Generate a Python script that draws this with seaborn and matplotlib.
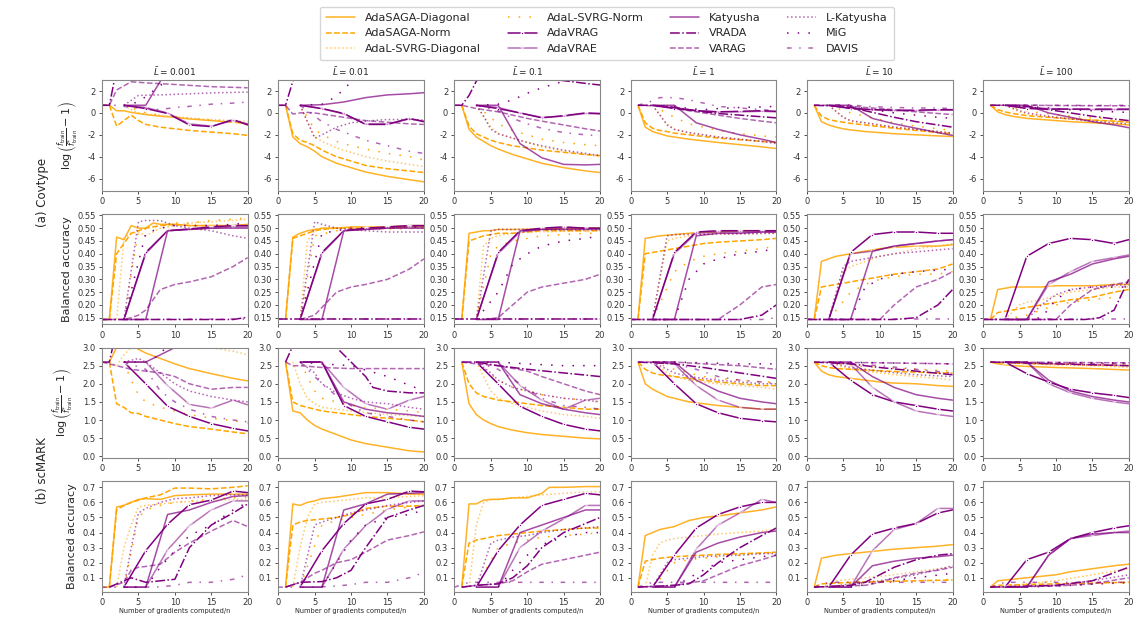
import matplotlib
matplotlib.use("Agg")
import matplotlib.pyplot as plt
import seaborn as sns

# method names, in legend order (column-wise, 4 columns)
names = ["AdaSAGA-Diagonal", "AdaSAGA-Norm", "AdaL-SVRG-Diagonal",
         "AdaL-SVRG-Norm", "AdaVRAG", "AdaVRAE",
         "Katyusha", "VRADA", "VARAG",
         "L-Katyusha", "MiG", "DAVIS"]

l_values = ["0.001", "0.01", "0.1", "1", "10", "100"]

# each panel: method -> {gradients computed / n : value}
covtype_loss = [
    {  # L = 0.001
        "AdaSAGA-Diagonal": {1: 0.7, 2: 0.2, 3: 0.2, 4: 0.05, 5: -0.05, 6: -0.15, 8: -0.3, 10: -0.4, 12: -0.55, 15: -0.7, 18: -0.85, 20: -1.0},
        "AdaSAGA-Norm": {1: 0.7, 2: -1.2, 3: -0.7, 4: -0.2, 5: -0.7, 6: -1.05, 8: -1.3, 10: -1.45, 12: -1.6, 15: -1.75, 18: -1.9, 20: -2.05},
        "AdaL-SVRG-Diagonal": {3: 0.7, 4: 0.3, 5: 0.0, 6: -0.1, 8: -0.2, 10: -0.35, 12: -0.45, 15: -0.6, 18: -0.7, 20: -0.8},
        "AdaL-SVRG-Norm": {3: 0.7, 6: 0.0, 8: -0.2, 10: -0.35, 12: -0.5, 15: -0.65, 18: -0.75, 20: -0.85},
        "AdaVRAG": {3: 0.7, 6: 0.4, 9: -0.05, 12: -1.1, 15: -1.25, 18: -0.6, 20: -1.1},
        "AdaVRAE": {3: 0.7, 6: 0.5, 9: 0.0, 12: -1.0, 15: -1.2, 18: -0.7, 20: -1.0},
        "Katyusha": {3: 0.7, 6: 0.7, 9: 4.0, 12: 6.0, 15: 6.0, 18: 6.0, 20: 6.0},
        "VRADA": {0: 0.7, 1: 0.7, 2: 4.0, 4: 6.0, 20: 6.0},
        "VARAG": {0: 0.7, 1: 0.7, 2: 2.1, 4: 2.85, 6: 2.75, 10: 2.6, 15: 2.4, 20: 2.3},
        "L-Katyusha": {3: 0.7, 5: 1.6, 8: 1.65, 12: 1.75, 16: 1.85, 20: 1.9},
        "MiG": {3: 0.7, 5: 1.0, 6: 1.5, 8: 2.5, 10: 3.5, 20: 6.0},
        "DAVIS": {0: 0.7, 2: 0.7, 4: 0.5, 6: 0.4, 8: 0.3, 10: 0.5, 12: 0.6, 15: 0.8, 18: 0.9, 20: 1.0},
    },
    {  # L = 0.01
        "AdaSAGA-Diagonal": {1: 0.7, 2: -2.2, 3: -2.8, 4: -3.1, 5: -3.5, 6: -4.0, 8: -4.6, 10: -5.0, 12: -5.4, 15: -5.8, 18: -6.1, 20: -6.3},
        "AdaSAGA-Norm": {1: 0.7, 2: -1.9, 3: -2.5, 4: -2.7, 5: -3.0, 6: -3.4, 8: -4.0, 10: -4.4, 12: -4.8, 15: -5.1, 18: -5.3, 20: -5.45},
        "AdaL-SVRG-Diagonal": {3: 0.7, 4: -0.8, 5: -2.2, 6: -2.6, 8: -3.2, 10: -3.6, 12: -4.0, 15: -4.4, 18: -4.7, 20: -4.9},
        "AdaL-SVRG-Norm": {3: 0.7, 5: -1.5, 6: -2.0, 8: -2.6, 10: -3.0, 12: -3.3, 15: -3.7, 18: -4.0, 20: -4.3},
        "AdaVRAG": {3: 0.7, 6: 0.4, 9: -0.05, 12: -1.05, 15: -1.05, 18: -0.5, 20: -0.8},
        "AdaVRAE": {3: 0.7, 6: 0.4, 9: -0.1, 12: -1.0, 15: -1.0, 18: -0.55, 20: -0.75},
        "Katyusha": {3: 0.7, 6: 0.75, 9: 1.0, 12: 1.4, 15: 1.65, 18: 1.75, 20: 1.85},
        "VRADA": {0: 0.7, 1: 0.7, 2: 2.9, 3: 5.0, 20: 6.0},
        "VARAG": {0: 0.7, 1: 0.7, 2: -0.1, 3: 0.0, 4: 0.05, 5: 0.0, 6: -0.1, 8: -0.3, 10: -0.5, 12: -0.7, 15: -0.85, 18: -1.0, 20: -1.05},
        "L-Katyusha": {3: 0.7, 5: -2.3, 6: -2.0, 8: -1.3, 10: -0.9, 12: -0.75, 15: -0.6, 18: -0.6, 20: -0.65},
        "MiG": {3: 0.7, 6: 0.8, 8: 1.5, 9: 2.2, 10: 2.8, 12: 4.0, 20: 6.0},
        "DAVIS": {3: 0.7, 6: -0.8, 8: -1.5, 10: -2.0, 12: -2.5, 15: -3.0, 18: -3.5, 20: -3.7},
    },
    {  # L = 0.1
        "AdaSAGA-Diagonal": {1: 0.7, 2: -1.5, 3: -2.2, 4: -2.6, 5: -3.0, 6: -3.3, 8: -3.8, 10: -4.2, 12: -4.6, 15: -5.0, 18: -5.3, 20: -5.45},
        "AdaSAGA-Norm": {1: 0.7, 2: -1.2, 3: -1.9, 4: -2.2, 5: -2.5, 6: -2.7, 8: -3.0, 10: -3.2, 12: -3.4, 15: -3.6, 18: -3.8, 20: -3.9},
        "AdaL-SVRG-Diagonal": {3: 0.7, 5: -1.3, 6: -1.9, 8: -2.3, 10: -2.7, 12: -3.1, 15: -3.5, 18: -3.8, 20: -4.0},
        "AdaL-SVRG-Norm": {3: 0.7, 6: -1.0, 8: -1.6, 10: -2.0, 12: -2.4, 15: -2.7, 18: -2.9, 20: -3.0},
        "AdaVRAG": {3: 0.7, 6: 0.4, 9: 0.0, 12: -0.45, 15: -0.25, 18: 0.0, 20: -0.05},
        "AdaVRAE": {3: 0.7, 6: 0.5, 9: 0.0, 12: -0.4, 15: -0.3, 18: -0.05, 20: -0.1},
        "Katyusha": {3: 0.7, 6: 0.7, 9: -2.8, 12: -4.1, 15: -4.7, 18: -4.75, 20: -4.7},
        "VRADA": {0: 0.7, 1: 0.7, 2: 1.6, 3: 2.9, 5: 4.5, 8: 4.0, 12: 3.2, 15: 2.95, 18: 2.7, 20: 2.55},
        "VARAG": {0: 0.7, 1: 0.7, 2: 0.55, 3: 0.4, 4: 0.3, 5: 0.2, 6: 0.1, 8: -0.2, 10: -0.5, 12: -0.75, 15: -1.1, 18: -1.45, 20: -1.65},
        "L-Katyusha": {3: 0.7, 4: -0.3, 5: -1.5, 6: -1.9, 8: -2.3, 10: -2.7, 12: -3.0, 15: -3.4, 18: -3.7, 20: -3.9},
        "MiG": {3: 0.7, 6: 0.8, 8: 1.2, 10: 1.8, 12: 2.3, 15: 2.9, 18: 3.2, 20: 3.5},
        "DAVIS": {3: 0.7, 6: 0.2, 8: -0.5, 10: -1.0, 12: -1.4, 15: -1.8, 18: -2.0, 20: -2.1},
    },
    {  # L = 1
        "AdaSAGA-Diagonal": {1: 0.7, 2: -1.3, 3: -1.7, 4: -1.9, 5: -2.1, 6: -2.2, 8: -2.4, 10: -2.55, 12: -2.7, 15: -2.9, 18: -3.1, 20: -3.25},
        "AdaSAGA-Norm": {1: 0.7, 2: -0.9, 3: -1.4, 4: -1.6, 5: -1.7, 6: -1.85, 8: -2.0, 10: -2.15, 12: -2.3, 15: -2.45, 18: -2.6, 20: -2.7},
        "AdaL-SVRG-Diagonal": {3: 0.7, 5: -1.0, 6: -1.5, 8: -1.8, 10: -2.0, 12: -2.2, 15: -2.4, 18: -2.6, 20: -2.7},
        "AdaL-SVRG-Norm": {3: 0.7, 6: -0.4, 8: -1.0, 10: -1.3, 12: -1.6, 15: -1.9, 18: -2.1, 20: -2.2},
        "AdaVRAG": {3: 0.7, 6: 0.4, 9: 0.2, 12: 0.1, 15: 0.15, 18: 0.2, 20: 0.15},
        "AdaVRAE": {3: 0.7, 6: 0.5, 9: 0.2, 12: 0.1, 15: 0.1, 18: 0.15, 20: 0.1},
        "Katyusha": {3: 0.7, 6: 0.7, 9: -0.9, 12: -1.5, 15: -2.0, 18: -2.4, 20: -2.7},
        "VRADA": {1: 0.7, 3: 0.7, 5: 0.6, 8: 0.3, 10: 0.1, 12: -0.05, 15: -0.2, 18: -0.35, 20: -0.45},
        "VARAG": {1: 0.7, 3: 0.65, 6: 0.45, 8: 0.2, 10: 0.0, 12: -0.2, 15: -0.5, 18: -0.75, 20: -0.9},
        "L-Katyusha": {3: 0.7, 4: -0.2, 5: -1.1, 6: -1.5, 8: -1.8, 10: -2.0, 12: -2.2, 15: -2.4, 18: -2.6, 20: -2.8},
        "MiG": {3: 0.7, 6: 0.6, 8: 0.4, 10: 0.3, 12: 0.4, 15: 0.5, 18: 0.55, 20: 0.6},
        "DAVIS": {1: 0.7, 3: 1.1, 4: 1.4, 6: 1.4, 8: 1.2, 10: 0.9, 12: 0.6, 15: 0.45, 18: 0.3, 20: 0.2},
    },
    {  # L = 10
        "AdaSAGA-Diagonal": {1: 0.7, 2: -0.8, 3: -1.1, 4: -1.3, 5: -1.45, 6: -1.55, 8: -1.7, 10: -1.8, 12: -1.9, 15: -2.0, 18: -2.1, 20: -2.15},
        "AdaSAGA-Norm": {1: 0.7, 2: -0.3, 3: -0.6, 4: -0.75, 5: -0.85, 6: -0.95, 8: -1.1, 10: -1.25, 12: -1.4, 15: -1.6, 18: -1.8, 20: -1.9},
        "AdaL-SVRG-Diagonal": {3: 0.7, 5: -0.4, 6: -0.75, 8: -0.9, 10: -1.1, 12: -1.3, 15: -1.5, 18: -1.7, 20: -1.8},
        "AdaL-SVRG-Norm": {3: 0.7, 6: 0.0, 8: -0.3, 10: -0.6, 12: -0.9, 15: -1.2, 18: -1.45, 20: -1.6},
        "AdaVRAG": {3: 0.7, 6: 0.4, 9: 0.3, 12: 0.25, 15: 0.25, 18: 0.3, 20: 0.3},
        "AdaVRAE": {3: 0.7, 6: 0.45, 9: 0.3, 12: 0.2, 15: 0.2, 18: 0.25, 20: 0.25},
        "Katyusha": {3: 0.7, 6: 0.7, 9: -0.5, 12: -1.0, 15: -1.4, 18: -1.8, 20: -2.05},
        "VRADA": {1: 0.7, 3: 0.65, 6: 0.5, 8: 0.2, 10: -0.1, 12: -0.4, 15: -0.8, 18: -1.1, 20: -1.3},
        "VARAG": {1: 0.7, 3: 0.7, 6: 0.6, 8: 0.5, 10: 0.4, 12: 0.3, 15: 0.1, 18: -0.05, 20: -0.15},
        "L-Katyusha": {3: 0.7, 5: -0.4, 6: -0.7, 8: -0.9, 10: -1.1, 12: -1.3, 15: -1.5, 18: -1.7, 20: -1.85},
        "MiG": {3: 0.7, 6: 0.6, 8: 0.4, 10: 0.2, 12: 0.0, 15: -0.2, 18: -0.4, 20: -0.5},
        "DAVIS": {1: 0.7, 4: 0.75, 6: 0.75, 8: 0.6, 10: 0.55, 12: 0.5, 15: 0.45, 18: 0.45, 20: 0.4},
    },
    {  # L = 100
        "AdaSAGA-Diagonal": {1: 0.7, 2: 0.1, 3: -0.15, 4: -0.3, 5: -0.4, 6: -0.5, 8: -0.6, 10: -0.7, 12: -0.8, 15: -0.9, 18: -1.0, 20: -1.1},
        "AdaSAGA-Norm": {1: 0.7, 2: 0.3, 3: 0.1, 4: -0.05, 5: -0.15, 6: -0.25, 8: -0.35, 10: -0.45, 12: -0.55, 15: -0.65, 18: -0.75, 20: -0.85},
        "AdaL-SVRG-Diagonal": {3: 0.7, 5: 0.1, 6: -0.1, 8: -0.25, 10: -0.4, 12: -0.5, 15: -0.65, 18: -0.75, 20: -0.8},
        "AdaL-SVRG-Norm": {3: 0.7, 6: 0.2, 8: 0.0, 10: -0.15, 12: -0.3, 15: -0.45, 18: -0.55, 20: -0.65},
        "AdaVRAG": {3: 0.7, 6: 0.4, 9: 0.35, 12: 0.35, 15: 0.35, 18: 0.35, 20: 0.35},
        "AdaVRAE": {3: 0.7, 6: 0.5, 9: 0.4, 12: 0.35, 15: 0.3, 18: 0.3, 20: 0.3},
        "Katyusha": {3: 0.7, 6: 0.7, 9: 0.0, 12: -0.4, 15: -0.8, 18: -1.1, 20: -1.35},
        "VRADA": {1: 0.7, 3: 0.7, 6: 0.6, 8: 0.4, 10: 0.2, 12: 0.0, 15: -0.3, 18: -0.55, 20: -0.7},
        "VARAG": {1: 0.7, 6: 0.7, 10: 0.68, 15: 0.66, 20: 0.65},
        "L-Katyusha": {3: 0.7, 5: 0.2, 6: 0.0, 8: -0.2, 10: -0.4, 12: -0.55, 15: -0.75, 18: -0.9, 20: -1.0},
        "MiG": {3: 0.7, 6: 0.6, 8: 0.5, 10: 0.4, 12: 0.3, 15: 0.2, 18: 0.1, 20: 0.05},
        "DAVIS": {1: 0.7, 6: 0.72, 10: 0.7, 15: 0.68, 20: 0.7},
    },
]

covtype_acc = [
    {  # L = 0.001
        "AdaSAGA-Diagonal": {0: 0.143, 1: 0.143, 2: 0.465, 3: 0.455, 4: 0.51, 5: 0.50, 6: 0.50, 7: 0.52, 8: 0.515, 10: 0.515, 12: 0.51, 15: 0.51, 18: 0.51, 20: 0.515},
        "AdaSAGA-Norm": {1: 0.143, 2: 0.40, 3: 0.44, 4: 0.48, 5: 0.49, 6: 0.50, 8: 0.51, 10: 0.515, 12: 0.51, 15: 0.51, 18: 0.51, 20: 0.51},
        "AdaL-SVRG-Diagonal": {2: 0.143, 3: 0.46, 4: 0.48, 5: 0.485, 6: 0.47, 8: 0.50, 10: 0.51, 12: 0.52, 15: 0.525, 18: 0.53, 20: 0.535},
        "AdaL-SVRG-Norm": {3: 0.143, 5: 0.49, 8: 0.51, 10: 0.52, 12: 0.52, 15: 0.53, 18: 0.535, 20: 0.54},
        "AdaVRAG": {3: 0.143, 6: 0.405, 9: 0.49, 12: 0.497, 15: 0.505, 18: 0.51, 20: 0.51},
        "AdaVRAE": {3: 0.143, 6: 0.40, 9: 0.49, 12: 0.495, 15: 0.50, 18: 0.505, 20: 0.505},
        "Katyusha": {3: 0.143, 6: 0.143, 9: 0.49, 12: 0.495, 15: 0.50, 18: 0.50, 20: 0.50},
        "VRADA": {0: 0.143, 18: 0.143, 20: 0.152},
        "VARAG": {0: 0.143, 3: 0.143, 4: 0.15, 5: 0.16, 6: 0.18, 8: 0.26, 10: 0.28, 12: 0.29, 15: 0.31, 18: 0.35, 20: 0.385},
        "L-Katyusha": {3: 0.143, 5: 0.525, 6: 0.53, 8: 0.53, 10: 0.51, 12: 0.50, 15: 0.49, 18: 0.47, 20: 0.46},
        "MiG": {3: 0.143, 6: 0.48, 8: 0.50, 10: 0.51, 15: 0.51, 18: 0.515, 20: 0.52},
        "DAVIS": {0: 0.143, 20: 0.145},
    },
    {  # L = 0.01
        "AdaSAGA-Diagonal": {1: 0.143, 2: 0.465, 3: 0.48, 4: 0.49, 5: 0.495, 6: 0.50, 8: 0.50, 10: 0.505, 12: 0.505, 15: 0.505, 18: 0.51, 20: 0.51},
        "AdaSAGA-Norm": {1: 0.143, 2: 0.46, 3: 0.47, 4: 0.48, 5: 0.49, 6: 0.495, 8: 0.50, 10: 0.50, 15: 0.50, 18: 0.505, 20: 0.505},
        "AdaL-SVRG-Diagonal": {3: 0.143, 4: 0.45, 5: 0.49, 6: 0.50, 20: 0.50},
        "AdaL-SVRG-Norm": {3: 0.143, 5: 0.47, 8: 0.49, 12: 0.495, 20: 0.50},
        "AdaVRAG": {3: 0.143, 6: 0.405, 9: 0.49, 12: 0.50, 15: 0.505, 18: 0.51, 20: 0.51},
        "AdaVRAE": {3: 0.143, 6: 0.40, 9: 0.49, 12: 0.495, 15: 0.50, 18: 0.505, 20: 0.505},
        "Katyusha": {3: 0.143, 6: 0.143, 9: 0.49, 12: 0.495, 15: 0.50, 18: 0.50, 20: 0.50},
        "VRADA": {0: 0.143, 20: 0.143},
        "VARAG": {3: 0.143, 5: 0.16, 6: 0.19, 8: 0.25, 10: 0.27, 12: 0.28, 15: 0.30, 18: 0.34, 20: 0.38},
        "L-Katyusha": {3: 0.143, 5: 0.525, 6: 0.515, 8: 0.50, 10: 0.495, 12: 0.49, 15: 0.485, 18: 0.485, 20: 0.485},
        "MiG": {3: 0.143, 6: 0.48, 10: 0.50, 20: 0.505},
        "DAVIS": {0: 0.143, 20: 0.143},
    },
    {  # L = 0.1
        "AdaSAGA-Diagonal": {1: 0.143, 2: 0.48, 3: 0.485, 4: 0.49, 5: 0.49, 6: 0.495, 8: 0.495, 20: 0.50},
        "AdaSAGA-Norm": {1: 0.143, 2: 0.45, 3: 0.46, 4: 0.47, 5: 0.475, 6: 0.48, 8: 0.48, 10: 0.485, 12: 0.49, 20: 0.49},
        "AdaL-SVRG-Diagonal": {3: 0.143, 4: 0.43, 5: 0.46, 6: 0.47, 8: 0.48, 10: 0.485, 20: 0.49},
        "AdaL-SVRG-Norm": {3: 0.143, 5: 0.40, 6: 0.43, 8: 0.45, 10: 0.46, 12: 0.47, 15: 0.475, 18: 0.48, 20: 0.48},
        "AdaVRAG": {3: 0.143, 6: 0.405, 9: 0.49, 12: 0.50, 15: 0.505, 18: 0.50, 20: 0.50},
        "AdaVRAE": {3: 0.143, 6: 0.40, 9: 0.485, 12: 0.495, 15: 0.50, 18: 0.50, 20: 0.50},
        "Katyusha": {3: 0.143, 6: 0.143, 9: 0.49, 12: 0.495, 15: 0.495, 18: 0.495, 20: 0.495},
        "VRADA": {0: 0.143, 20: 0.143},
        "VARAG": {4: 0.143, 6: 0.15, 8: 0.20, 10: 0.25, 12: 0.27, 15: 0.285, 18: 0.30, 20: 0.32},
        "L-Katyusha": {3: 0.143, 5: 0.49, 6: 0.495, 20: 0.495},
        "MiG": {3: 0.143, 6: 0.25, 8: 0.36, 10: 0.40, 12: 0.43, 15: 0.45, 18: 0.46, 20: 0.47},
        "DAVIS": {0: 0.143, 20: 0.143},
    },
    {  # L = 1
        "AdaSAGA-Diagonal": {1: 0.143, 2: 0.46, 3: 0.465, 4: 0.47, 6: 0.475, 8: 0.48, 10: 0.485, 12: 0.485, 15: 0.49, 18: 0.49, 20: 0.49},
        "AdaSAGA-Norm": {1: 0.143, 2: 0.40, 3: 0.405, 4: 0.41, 6: 0.42, 8: 0.43, 10: 0.44, 12: 0.445, 15: 0.45, 18: 0.455, 20: 0.46},
        "AdaL-SVRG-Diagonal": {3: 0.143, 5: 0.45, 6: 0.46, 8: 0.47, 10: 0.475, 20: 0.48},
        "AdaL-SVRG-Norm": {3: 0.143, 6: 0.33, 8: 0.37, 10: 0.39, 12: 0.40, 15: 0.41, 18: 0.42, 20: 0.43},
        "AdaVRAG": {3: 0.143, 6: 0.405, 9: 0.485, 12: 0.49, 15: 0.49, 18: 0.49, 20: 0.49},
        "AdaVRAE": {3: 0.143, 6: 0.40, 9: 0.48, 12: 0.485, 15: 0.485, 18: 0.485, 20: 0.485},
        "Katyusha": {3: 0.143, 6: 0.143, 9: 0.47, 12: 0.48, 15: 0.48, 18: 0.485, 20: 0.485},
        "VRADA": {0: 0.143, 15: 0.143, 18: 0.16, 20: 0.20},
        "VARAG": {0: 0.143, 12: 0.143, 15: 0.20, 18: 0.27, 20: 0.28},
        "L-Katyusha": {3: 0.143, 5: 0.47, 6: 0.475, 20: 0.48},
        "MiG": {3: 0.143, 6: 0.143, 8: 0.30, 10: 0.36, 12: 0.38, 15: 0.40, 18: 0.41, 20: 0.42},
        "DAVIS": {0: 0.143, 18: 0.143, 20: 0.15},
    },
    {  # L = 10
        "AdaSAGA-Diagonal": {1: 0.143, 2: 0.37, 3: 0.38, 4: 0.39, 6: 0.40, 8: 0.41, 10: 0.42, 12: 0.425, 15: 0.43, 18: 0.43, 20: 0.435},
        "AdaSAGA-Norm": {1: 0.143, 2: 0.27, 3: 0.275, 4: 0.28, 6: 0.29, 8: 0.30, 10: 0.31, 12: 0.32, 15: 0.33, 18: 0.34, 20: 0.36},
        "AdaL-SVRG-Diagonal": {3: 0.143, 5: 0.33, 6: 0.35, 8: 0.37, 10: 0.39, 12: 0.40, 15: 0.42, 18: 0.43, 20: 0.44},
        "AdaL-SVRG-Norm": {3: 0.143, 6: 0.25, 8: 0.28, 10: 0.30, 12: 0.31, 15: 0.32, 18: 0.32, 20: 0.33},
        "AdaVRAG": {3: 0.143, 6: 0.405, 9: 0.475, 12: 0.485, 15: 0.485, 18: 0.48, 20: 0.48},
        "AdaVRAE": {3: 0.143, 6: 0.40, 9: 0.41, 12: 0.43, 15: 0.44, 18: 0.45, 20: 0.455},
        "Katyusha": {3: 0.143, 6: 0.143, 9: 0.41, 12: 0.43, 15: 0.44, 18: 0.45, 20: 0.455},
        "VRADA": {0: 0.143, 12: 0.143, 15: 0.15, 18: 0.20, 20: 0.26},
        "VARAG": {0: 0.143, 10: 0.143, 12: 0.20, 15: 0.27, 18: 0.30, 20: 0.33},
        "L-Katyusha": {3: 0.143, 5: 0.35, 6: 0.37, 8: 0.38, 10: 0.39, 12: 0.40, 20: 0.42},
        "MiG": {6: 0.143, 8: 0.27, 10: 0.30, 12: 0.32, 15: 0.33, 20: 0.34},
        "DAVIS": {0: 0.143, 20: 0.143},
    },
    {  # L = 100
        "AdaSAGA-Diagonal": {1: 0.143, 2: 0.26, 3: 0.265, 4: 0.27, 8: 0.27, 10: 0.275, 15: 0.275, 18: 0.28, 20: 0.28},
        "AdaSAGA-Norm": {1: 0.143, 2: 0.17, 3: 0.175, 4: 0.18, 6: 0.19, 8: 0.20, 10: 0.21, 12: 0.22, 15: 0.23, 18: 0.25, 20: 0.26},
        "AdaL-SVRG-Diagonal": {3: 0.143, 5: 0.20, 6: 0.21, 8: 0.22, 10: 0.235, 12: 0.25, 15: 0.26, 18: 0.27, 20: 0.27},
        "AdaL-SVRG-Norm": {3: 0.143, 6: 0.16, 8: 0.18, 10: 0.20, 12: 0.21, 15: 0.22, 18: 0.23, 20: 0.24},
        "AdaVRAG": {3: 0.143, 6: 0.39, 9: 0.44, 12: 0.46, 15: 0.455, 18: 0.44, 20: 0.455},
        "AdaVRAE": {3: 0.143, 6: 0.143, 9: 0.28, 12: 0.33, 15: 0.37, 18: 0.385, 20: 0.395},
        "Katyusha": {3: 0.143, 6: 0.143, 9: 0.29, 12: 0.32, 15: 0.36, 18: 0.38, 20: 0.39},
        "VRADA": {0: 0.143, 14: 0.143, 16: 0.15, 18: 0.18, 20: 0.30},
        "VARAG": {0: 0.143, 10: 0.143, 12: 0.20, 15: 0.26, 18: 0.28, 20: 0.29},
        "L-Katyusha": {3: 0.143, 6: 0.143, 8: 0.20, 10: 0.24, 12: 0.26, 15: 0.27, 20: 0.28},
        "MiG": {6: 0.143, 8: 0.15, 10: 0.22, 12: 0.26, 15: 0.27, 20: 0.27},
        "DAVIS": {0: 0.143, 20: 0.143},
    },
]

scmark_loss = [
    {  # L = 0.001
        "AdaSAGA-Diagonal": {1: 2.6, 2: 3.0, 3: 3.2, 4: 3.1, 5: 2.95, 6: 2.85, 8: 2.7, 10: 2.55, 12: 2.42, 15: 2.28, 18: 2.15, 20: 2.08},
        "AdaSAGA-Norm": {1: 2.6, 2: 1.45, 3: 1.35, 4: 1.2, 5: 1.18, 6: 1.1, 8: 1.0, 10: 0.9, 12: 0.82, 15: 0.75, 18: 0.67, 20: 0.62},
        "AdaL-SVRG-Diagonal": {1: 2.6, 2: 2.5, 3: 2.8, 4: 3.0, 6: 3.3, 10: 3.2, 15: 3.0, 18: 2.9, 20: 2.8},
        "AdaL-SVRG-Norm": {3: 2.6, 4: 2.1, 5: 1.7, 6: 1.5, 8: 1.35, 10: 1.25, 12: 1.15, 15: 1.05, 18: 0.98, 20: 0.92},
        "AdaVRAG": {3: 2.6, 6: 2.0, 9: 1.38, 12: 1.1, 15: 0.9, 18: 0.77, 20: 0.7},
        "AdaVRAE": {3: 2.6, 6: 2.6, 9: 1.95, 12: 1.43, 15: 1.33, 18: 1.55, 20: 1.42},
        "Katyusha": {3: 2.6, 6: 2.6, 9: 2.9, 10: 3.0, 12: 3.2, 15: 3.4, 20: 3.6},
        "VRADA": {0: 2.6, 1: 2.6, 2: 3.5, 20: 4.0},
        "VARAG": {0: 2.6, 1: 2.55, 2: 2.5, 3: 2.45, 4: 2.4, 6: 2.35, 8: 2.3, 10: 2.2, 12: 2.0, 15: 1.85, 18: 1.9, 20: 1.9},
        "L-Katyusha": {3: 2.6, 4: 2.65, 5: 2.7, 6: 2.6, 8: 2.3, 10: 2.0, 12: 1.8, 15: 1.65, 18: 1.55, 20: 1.5},
        "MiG": {3: 2.6, 6: 2.6, 8: 2.8, 9: 3.1, 20: 4.0},
        "DAVIS": {3: 2.6, 6: 2.4, 8: 1.8, 10: 1.5, 12: 1.3, 15: 1.1, 18: 1.0, 20: 0.95},
    },
    {  # L = 0.01
        "AdaSAGA-Diagonal": {1: 2.6, 2: 1.25, 3: 1.2, 4: 1.0, 5: 0.85, 6: 0.75, 8: 0.6, 10: 0.45, 12: 0.35, 15: 0.25, 18: 0.15, 20: 0.12},
        "AdaSAGA-Norm": {1: 2.6, 2: 1.5, 3: 1.4, 4: 1.35, 5: 1.3, 6: 1.25, 8: 1.2, 10: 1.15, 12: 1.1, 15: 1.05, 18: 1.0, 20: 0.95},
        "AdaL-SVRG-Diagonal": {2: 2.6, 3: 2.0, 4: 1.6, 5: 1.45, 6: 1.35, 8: 1.3, 10: 1.25, 15: 1.15, 20: 1.1},
        "AdaL-SVRG-Norm": {3: 2.6, 5: 1.8, 6: 1.6, 8: 1.5, 10: 1.4, 12: 1.35, 15: 1.3, 18: 1.25, 20: 1.2},
        "AdaVRAG": {3: 2.6, 6: 2.6, 9: 1.4, 12: 1.1, 15: 0.95, 18: 0.8, 20: 0.75},
        "AdaVRAE": {3: 2.6, 6: 2.6, 9: 1.9, 12: 1.45, 15: 1.3, 18: 1.55, 20: 1.65},
        "Katyusha": {3: 2.6, 6: 2.6, 9: 1.5, 12: 1.3, 15: 1.2, 18: 1.15, 20: 1.1},
        "VRADA": {1: 2.6, 3: 3.5, 6: 3.3, 8: 3.0, 10: 2.6, 12: 2.2, 13: 1.9, 15: 1.8, 18: 1.75, 20: 1.75},
        "VARAG": {1: 2.6, 2: 2.5, 3: 2.5, 6: 2.45, 10: 2.42, 20: 2.42},
        "L-Katyusha": {3: 2.6, 5: 2.3, 6: 2.0, 8: 1.75, 10: 1.6, 12: 1.5, 15: 1.45, 18: 1.35, 20: 1.3},
        "MiG": {3: 2.6, 6: 2.55, 10: 2.5, 15: 2.2, 20: 1.8},
        "DAVIS": {3: 2.6, 6: 2.0, 9: 1.5, 12: 1.2, 15: 1.1, 18: 1.0, 20: 0.95},
    },
    {  # L = 0.1
        "AdaSAGA-Diagonal": {1: 2.6, 2: 1.45, 3: 1.15, 4: 1.0, 5: 0.9, 6: 0.82, 8: 0.72, 10: 0.65, 12: 0.6, 15: 0.55, 18: 0.5, 20: 0.48},
        "AdaSAGA-Norm": {1: 2.6, 2: 2.0, 3: 1.75, 4: 1.65, 5: 1.6, 6: 1.55, 8: 1.5, 10: 1.45, 12: 1.4, 15: 1.35, 18: 1.3, 20: 1.3},
        "AdaL-SVRG-Diagonal": {3: 2.6, 4: 2.2, 5: 1.8, 6: 1.6, 8: 1.45, 10: 1.35, 12: 1.25, 15: 1.15, 18: 1.1, 20: 1.05},
        "AdaL-SVRG-Norm": {3: 2.6, 6: 2.1, 8: 1.9, 10: 1.8, 12: 1.7, 15: 1.6, 18: 1.55, 20: 1.5},
        "AdaVRAG": {3: 2.6, 6: 2.0, 9: 1.38, 12: 1.1, 15: 0.88, 18: 0.75, 20: 0.7},
        "AdaVRAE": {3: 2.6, 6: 2.6, 9: 1.95, 12: 1.55, 15: 1.3, 18: 1.55, 20: 1.6},
        "Katyusha": {3: 2.6, 6: 2.6, 9: 1.7, 12: 1.45, 15: 1.3, 18: 1.2, 20: 1.15},
        "VRADA": {1: 2.6, 3: 2.6, 6: 2.5, 10: 2.4, 15: 2.3, 20: 2.2},
        "VARAG": {1: 2.6, 3: 2.55, 6: 2.5, 10: 2.35, 12: 2.2, 15: 2.0, 18: 1.8, 20: 1.7},
        "L-Katyusha": {3: 2.6, 5: 2.3, 6: 2.1, 8: 1.9, 10: 1.8, 12: 1.7, 15: 1.6, 18: 1.55, 20: 1.5},
        "MiG": {3: 2.6, 6: 2.6, 10: 2.55, 15: 2.5, 20: 2.5},
        "DAVIS": {3: 2.6, 6: 2.4, 9: 2.0, 12: 1.6, 15: 1.4, 18: 1.35, 20: 1.3},
    },
    {  # L = 1
        "AdaSAGA-Diagonal": {1: 2.6, 2: 2.0, 3: 1.85, 4: 1.75, 5: 1.65, 6: 1.6, 8: 1.5, 10: 1.45, 12: 1.4, 15: 1.35, 18: 1.3, 20: 1.3},
        "AdaSAGA-Norm": {1: 2.6, 2: 2.4, 3: 2.3, 4: 2.25, 6: 2.2, 8: 2.15, 10: 2.1, 12: 2.05, 15: 2.0, 18: 1.95, 20: 1.95},
        "AdaL-SVRG-Diagonal": {3: 2.6, 5: 2.3, 6: 2.2, 8: 2.1, 10: 2.05, 12: 2.0, 15: 1.95, 18: 1.9, 20: 1.85},
        "AdaL-SVRG-Norm": {3: 2.6, 6: 2.4, 8: 2.3, 10: 2.2, 12: 2.15, 15: 2.1, 18: 2.05, 20: 2.05},
        "AdaVRAG": {3: 2.6, 6: 2.0, 9: 1.45, 12: 1.2, 15: 1.05, 18: 0.98, 20: 0.95},
        "AdaVRAE": {3: 2.6, 6: 2.55, 9: 1.95, 12: 1.55, 15: 1.35, 18: 1.3, 20: 1.3},
        "Katyusha": {3: 2.6, 6: 2.6, 9: 2.1, 12: 1.8, 15: 1.6, 18: 1.5, 20: 1.45},
        "VRADA": {1: 2.6, 6: 2.55, 10: 2.45, 15: 2.3, 20: 2.15},
        "VARAG": {1: 2.6, 6: 2.6, 10: 2.55, 15: 2.5, 20: 2.4},
        "L-Katyusha": {3: 2.6, 5: 2.4, 6: 2.3, 8: 2.2, 10: 2.15, 12: 2.1, 15: 2.05, 18: 2.0, 20: 2.0},
        "MiG": {3: 2.6, 6: 2.6, 10: 2.58, 15: 2.55, 20: 2.55},
        "DAVIS": {3: 2.6, 6: 2.55, 9: 2.4, 12: 2.2, 15: 2.1, 18: 2.05, 20: 2.0},
    },
    {  # L = 10
        "AdaSAGA-Diagonal": {1: 2.6, 2: 2.35, 3: 2.25, 4: 2.2, 6: 2.15, 8: 2.1, 10: 2.05, 12: 2.02, 15: 2.0, 18: 1.95, 20: 1.93},
        "AdaSAGA-Norm": {1: 2.6, 2: 2.5, 3: 2.45, 4: 2.42, 6: 2.4, 8: 2.38, 10: 2.36, 12: 2.34, 15: 2.32, 18: 2.3, 20: 2.3},
        "AdaL-SVRG-Diagonal": {3: 2.6, 5: 2.45, 6: 2.4, 8: 2.35, 10: 2.3, 12: 2.25, 15: 2.2, 18: 2.15, 20: 2.1},
        "AdaL-SVRG-Norm": {3: 2.6, 6: 2.5, 10: 2.45, 15: 2.4, 20: 2.35},
        "AdaVRAG": {3: 2.6, 6: 2.1, 9: 1.7, 12: 1.5, 15: 1.4, 18: 1.3, 20: 1.25},
        "AdaVRAE": {3: 2.6, 6: 2.55, 9: 1.9, 12: 1.5, 15: 1.25, 18: 1.15, 20: 1.1},
        "Katyusha": {3: 2.6, 6: 2.6, 9: 2.2, 12: 1.9, 15: 1.7, 18: 1.6, 20: 1.55},
        "VRADA": {1: 2.6, 6: 2.55, 10: 2.45, 15: 2.35, 20: 2.25},
        "VARAG": {1: 2.6, 10: 2.58, 20: 2.55},
        "L-Katyusha": {3: 2.6, 5: 2.5, 6: 2.45, 10: 2.35, 15: 2.25, 20: 2.2},
        "MiG": {3: 2.6, 10: 2.58, 20: 2.55},
        "DAVIS": {3: 2.6, 6: 2.55, 10: 2.5, 15: 2.4, 20: 2.3},
    },
    {  # L = 100
        "AdaSAGA-Diagonal": {1: 2.6, 2: 2.55, 4: 2.5, 6: 2.48, 10: 2.45, 15: 2.42, 20: 2.38},
        "AdaSAGA-Norm": {1: 2.6, 2: 2.58, 6: 2.56, 10: 2.55, 15: 2.52, 20: 2.5},
        "AdaL-SVRG-Diagonal": {3: 2.6, 6: 2.55, 10: 2.52, 15: 2.5, 20: 2.45},
        "AdaL-SVRG-Norm": {3: 2.6, 10: 2.57, 20: 2.55},
        "AdaVRAG": {3: 2.6, 6: 2.28, 9: 2.05, 12: 1.85, 15: 1.75, 18: 1.68, 20: 1.62},
        "AdaVRAE": {3: 2.6, 6: 2.6, 9: 2.0, 12: 1.75, 15: 1.6, 18: 1.5, 20: 1.45},
        "Katyusha": {3: 2.6, 6: 2.6, 9: 2.1, 12: 1.8, 15: 1.65, 18: 1.55, 20: 1.5},
        "VRADA": {1: 2.6, 10: 2.55, 20: 2.5},
        "VARAG": {1: 2.6, 20: 2.58},
        "L-Katyusha": {3: 2.6, 6: 2.57, 10: 2.55, 20: 2.5},
        "MiG": {3: 2.6, 20: 2.57},
        "DAVIS": {3: 2.6, 10: 2.57, 20: 2.55},
    },
]

scmark_acc = [
    {  # L = 0.001
        "AdaSAGA-Diagonal": {0: 0.038, 1: 0.038, 2: 0.57, 3: 0.58, 4: 0.60, 5: 0.62, 6: 0.625, 8: 0.62, 10: 0.645, 12: 0.65, 15: 0.655, 20: 0.655},
        "AdaSAGA-Norm": {1: 0.038, 2: 0.55, 3: 0.58, 4: 0.60, 5: 0.615, 6: 0.63, 8: 0.65, 10: 0.695, 12: 0.695, 15: 0.69, 18: 0.70, 20: 0.71},
        "AdaL-SVRG-Diagonal": {2: 0.038, 3: 0.30, 4: 0.45, 5: 0.57, 6: 0.58, 8: 0.59, 10: 0.60, 12: 0.605, 15: 0.61, 18: 0.62, 20: 0.62},
        "AdaL-SVRG-Norm": {3: 0.038, 5: 0.50, 6: 0.55, 8: 0.58, 10: 0.60, 12: 0.61, 15: 0.62, 18: 0.63, 20: 0.635},
        "AdaVRAG": {3: 0.038, 6: 0.28, 9: 0.455, 12: 0.585, 15: 0.615, 18: 0.675, 20: 0.665},
        "AdaVRAE": {3: 0.038, 6: 0.038, 9: 0.285, 12: 0.445, 15: 0.55, 18: 0.61, 20: 0.61},
        "Katyusha": {3: 0.038, 6: 0.038, 9: 0.52, 12: 0.55, 15: 0.60, 18: 0.64, 20: 0.645},
        "VRADA": {1: 0.038, 3: 0.08, 4: 0.10, 6: 0.07, 8: 0.08, 10: 0.09, 12: 0.30, 15: 0.45, 18: 0.53, 20: 0.59},
        "VARAG": {1: 0.038, 3: 0.07, 4: 0.15, 5: 0.17, 6: 0.175, 8: 0.19, 10: 0.27, 12: 0.33, 15: 0.41, 18: 0.48, 20: 0.44},
        "L-Katyusha": {3: 0.038, 4: 0.30, 5: 0.53, 6: 0.56, 8: 0.60, 10: 0.625, 12: 0.63, 15: 0.645, 18: 0.65, 20: 0.65},
        "MiG": {3: 0.038, 6: 0.038, 8: 0.17, 10: 0.28, 12: 0.38, 15: 0.45, 18: 0.55, 20: 0.60},
        "DAVIS": {0: 0.038, 5: 0.038, 8: 0.04, 10: 0.05, 12: 0.07, 15: 0.07, 18: 0.09, 20: 0.12},
    },
    {  # L = 0.01
        "AdaSAGA-Diagonal": {1: 0.038, 2: 0.59, 3: 0.58, 4: 0.60, 5: 0.61, 6: 0.625, 8: 0.635, 10: 0.65, 12: 0.665, 15: 0.665, 18: 0.655, 20: 0.655},
        "AdaSAGA-Norm": {1: 0.038, 2: 0.45, 3: 0.47, 4: 0.48, 6: 0.49, 8: 0.50, 10: 0.52, 12: 0.56, 15: 0.575, 18: 0.575, 20: 0.58},
        "AdaL-SVRG-Diagonal": {2: 0.038, 3: 0.30, 4: 0.50, 5: 0.59, 6: 0.60, 8: 0.61, 10: 0.62, 12: 0.63, 15: 0.63, 18: 0.64, 20: 0.645},
        "AdaL-SVRG-Norm": {3: 0.038, 6: 0.45, 8: 0.48, 10: 0.50, 12: 0.52, 15: 0.55, 18: 0.57, 20: 0.58},
        "AdaVRAG": {3: 0.038, 6: 0.28, 9: 0.46, 12: 0.59, 15: 0.62, 18: 0.675, 20: 0.67},
        "AdaVRAE": {3: 0.038, 6: 0.038, 9: 0.29, 12: 0.445, 15: 0.555, 18: 0.61, 20: 0.61},
        "Katyusha": {3: 0.038, 6: 0.038, 9: 0.55, 12: 0.59, 15: 0.655, 18: 0.66, 20: 0.665},
        "VRADA": {1: 0.038, 3: 0.07, 6: 0.075, 8: 0.10, 10: 0.15, 12: 0.30, 15: 0.50, 18: 0.55, 20: 0.58},
        "VARAG": {1: 0.038, 3: 0.07, 5: 0.13, 6: 0.15, 8: 0.20, 10: 0.22, 12: 0.27, 15: 0.35, 18: 0.38, 20: 0.405},
        "L-Katyusha": {3: 0.038, 5: 0.45, 6: 0.47, 8: 0.50, 10: 0.53, 12: 0.55, 15: 0.58, 18: 0.60, 20: 0.61},
        "MiG": {6: 0.038, 8: 0.20, 10: 0.35, 12: 0.45, 15: 0.50, 18: 0.52, 20: 0.55},
        "DAVIS": {0: 0.038, 5: 0.038, 8: 0.045, 10: 0.055, 12: 0.07, 15: 0.07, 18: 0.10, 20: 0.135},
    },
    {  # L = 0.1
        "AdaSAGA-Diagonal": {1: 0.038, 2: 0.59, 3: 0.59, 4: 0.615, 5: 0.62, 6: 0.62, 8: 0.63, 10: 0.63, 12: 0.66, 13: 0.70, 15: 0.70, 18: 0.705, 20: 0.705},
        "AdaSAGA-Norm": {1: 0.038, 2: 0.33, 3: 0.35, 4: 0.36, 6: 0.38, 8: 0.39, 10: 0.40, 12: 0.41, 15: 0.42, 18: 0.43, 20: 0.43},
        "AdaL-SVRG-Diagonal": {2: 0.038, 3: 0.45, 4: 0.60, 5: 0.62, 6: 0.62, 8: 0.63, 10: 0.64, 12: 0.65, 15: 0.66, 18: 0.67, 20: 0.67},
        "AdaL-SVRG-Norm": {3: 0.038, 6: 0.30, 8: 0.33, 10: 0.35, 12: 0.37, 15: 0.38, 18: 0.39, 20: 0.40},
        "AdaVRAG": {3: 0.038, 6: 0.28, 9: 0.45, 12: 0.58, 15: 0.62, 18: 0.66, 20: 0.65},
        "AdaVRAE": {3: 0.038, 6: 0.038, 9: 0.30, 12: 0.41, 15: 0.49, 18: 0.58, 20: 0.58},
        "Katyusha": {3: 0.038, 6: 0.038, 9: 0.40, 12: 0.45, 15: 0.50, 18: 0.55, 20: 0.55},
        "VRADA": {1: 0.038, 3: 0.05, 6: 0.06, 8: 0.10, 10: 0.18, 12: 0.30, 15: 0.40, 18: 0.46, 20: 0.50},
        "VARAG": {1: 0.038, 3: 0.05, 6: 0.06, 8: 0.08, 10: 0.14, 12: 0.19, 15: 0.22, 18: 0.25, 20: 0.27},
        "L-Katyusha": {3: 0.038, 5: 0.33, 6: 0.35, 8: 0.37, 10: 0.38, 12: 0.40, 15: 0.42, 18: 0.43, 20: 0.44},
        "MiG": {6: 0.038, 8: 0.15, 10: 0.25, 12: 0.32, 15: 0.37, 18: 0.40, 20: 0.40},
        "DAVIS": {0: 0.038, 2: 0.07, 20: 0.07},
    },
    {  # L = 1
        "AdaSAGA-Diagonal": {1: 0.038, 2: 0.38, 3: 0.40, 4: 0.42, 6: 0.44, 8: 0.48, 10: 0.50, 12: 0.51, 15: 0.53, 18: 0.55, 20: 0.57},
        "AdaSAGA-Norm": {1: 0.038, 2: 0.21, 3: 0.22, 4: 0.23, 6: 0.24, 8: 0.245, 10: 0.25, 12: 0.255, 15: 0.26, 18: 0.265, 20: 0.27},
        "AdaL-SVRG-Diagonal": {2: 0.038, 3: 0.25, 4: 0.33, 5: 0.35, 6: 0.36, 8: 0.37, 10: 0.38, 12: 0.39, 15: 0.40, 18: 0.41, 20: 0.42},
        "AdaL-SVRG-Norm": {3: 0.038, 6: 0.20, 8: 0.22, 10: 0.23, 12: 0.24, 15: 0.25, 18: 0.26, 20: 0.27},
        "AdaVRAG": {3: 0.038, 6: 0.25, 9: 0.43, 12: 0.52, 15: 0.57, 18: 0.60, 20: 0.60},
        "AdaVRAE": {3: 0.038, 6: 0.038, 9: 0.29, 12: 0.45, 15: 0.53, 18: 0.62, 20: 0.60},
        "Katyusha": {3: 0.038, 6: 0.038, 9: 0.27, 12: 0.33, 15: 0.37, 18: 0.40, 20: 0.41},
        "VRADA": {1: 0.038, 6: 0.05, 8: 0.06, 10: 0.12, 12: 0.20, 15: 0.30, 18: 0.38, 20: 0.43},
        "VARAG": {1: 0.038, 6: 0.05, 10: 0.08, 12: 0.12, 15: 0.18, 18: 0.22, 20: 0.25},
        "L-Katyusha": {3: 0.038, 5: 0.20, 6: 0.22, 8: 0.23, 10: 0.24, 12: 0.245, 15: 0.25, 18: 0.26, 20: 0.26},
        "MiG": {6: 0.038, 8: 0.10, 10: 0.15, 12: 0.20, 15: 0.22, 18: 0.24, 20: 0.25},
        "DAVIS": {1: 0.038, 3: 0.07, 20: 0.07},
    },
    {  # L = 10
        "AdaSAGA-Diagonal": {1: 0.038, 2: 0.23, 3: 0.24, 4: 0.25, 6: 0.26, 8: 0.27, 10: 0.28, 12: 0.29, 15: 0.30, 18: 0.31, 20: 0.32},
        "AdaSAGA-Norm": {1: 0.038, 2: 0.06, 4: 0.065, 6: 0.07, 10: 0.075, 15: 0.08, 20: 0.085},
        "AdaL-SVRG-Diagonal": {2: 0.038, 4: 0.08, 6: 0.09, 8: 0.10, 10: 0.11, 12: 0.12, 15: 0.14, 18: 0.16, 20: 0.17},
        "AdaL-SVRG-Norm": {3: 0.038, 6: 0.06, 10: 0.07, 15: 0.08, 20: 0.09},
        "AdaVRAG": {3: 0.038, 6: 0.25, 9: 0.39, 12: 0.43, 15: 0.46, 18: 0.53, 20: 0.55},
        "AdaVRAE": {3: 0.038, 6: 0.038, 9: 0.28, 12: 0.42, 15: 0.46, 18: 0.56, 20: 0.56},
        "Katyusha": {3: 0.038, 6: 0.038, 9: 0.18, 12: 0.21, 15: 0.23, 18: 0.24, 20: 0.25},
        "VRADA": {1: 0.038, 6: 0.05, 8: 0.07, 10: 0.12, 12: 0.17, 15: 0.22, 18: 0.25, 20: 0.26},
        "VARAG": {1: 0.038, 8: 0.05, 10: 0.07, 12: 0.10, 15: 0.13, 18: 0.15, 20: 0.17},
        "L-Katyusha": {3: 0.038, 6: 0.06, 10: 0.08, 15: 0.12, 20: 0.18},
        "MiG": {6: 0.038, 10: 0.07, 15: 0.10, 20: 0.13},
        "DAVIS": {1: 0.038, 3: 0.07, 20: 0.07},
    },
    {  # L = 100
        "AdaSAGA-Diagonal": {1: 0.038, 2: 0.08, 4: 0.09, 6: 0.10, 8: 0.11, 10: 0.12, 12: 0.14, 15: 0.16, 18: 0.18, 20: 0.19},
        "AdaSAGA-Norm": {1: 0.038, 2: 0.05, 6: 0.055, 10: 0.06, 15: 0.065, 20: 0.07},
        "AdaL-SVRG-Diagonal": {2: 0.038, 4: 0.05, 6: 0.06, 10: 0.08, 15: 0.12, 20: 0.16},
        "AdaL-SVRG-Norm": {3: 0.038, 6: 0.045, 10: 0.05, 15: 0.06, 20: 0.065},
        "AdaVRAG": {3: 0.038, 6: 0.22, 9: 0.27, 12: 0.36, 15: 0.40, 18: 0.43, 20: 0.445},
        "AdaVRAE": {3: 0.038, 6: 0.038, 9: 0.25, 12: 0.36, 15: 0.38, 18: 0.40, 20: 0.41},
        "Katyusha": {3: 0.038, 6: 0.038, 9: 0.25, 12: 0.36, 15: 0.39, 18: 0.40, 20: 0.40},
        "VRADA": {1: 0.038, 10: 0.05, 15: 0.08, 20: 0.17},
        "VARAG": {1: 0.038, 10: 0.045, 15: 0.06, 20: 0.10},
        "L-Katyusha": {3: 0.038, 10: 0.05, 15: 0.08, 20: 0.12},
        "MiG": {6: 0.038, 12: 0.05, 20: 0.07},
        "DAVIS": {1: 0.038, 3: 0.07, 20: 0.07},
    },
]

ORANGE = "#FFA500"
PURPLE = "#800080"
# color, linestyle, marker, alpha
styles = {
    "AdaSAGA-Diagonal": (ORANGE, "-", None, 0.85),
    "AdaSAGA-Norm": (ORANGE, "--", None, 1.0),
    "AdaL-SVRG-Diagonal": (ORANGE, ":", None, 0.6),
    "AdaL-SVRG-Norm": (ORANGE, (0, (1, 6)), None, 1.0),
    "AdaVRAG": (PURPLE, "-", ".", 1.0),
    "AdaVRAE": (PURPLE, "-", "x", 0.55),
    "Katyusha": (PURPLE, "-", None, 0.7),
    "VRADA": (PURPLE, "-.", None, 1.0),
    "VARAG": (PURPLE, "--", None, 0.6),
    "L-Katyusha": (PURPLE, ":", None, 0.6),
    "MiG": (PURPLE, (0, (1, 6)), None, 1.0),
    "DAVIS": (PURPLE, (0, (3, 5, 1, 5)), None, 0.6),
}

rows = [covtype_loss, covtype_acc, scmark_loss, scmark_acc]
loss_label = r"$\log\left(\frac{f_{\mathrm{train}}}{f^{*}_{\mathrm{train}}}-1\right)$"
row_ylabels = [loss_label, "Balanced accuracy", loss_label, "Balanced accuracy"]
row_ylims = [(-7.1, 3.0), (0.124, 0.556), (-0.05, 3.0), (0.007, 0.74)]
row_yticks = [[-6, -4, -2, 0, 2],
              [0.15, 0.20, 0.25, 0.30, 0.35, 0.40, 0.45, 0.50, 0.55],
              [0.0, 0.5, 1.0, 1.5, 2.0, 2.5, 3.0],
              [0.1, 0.2, 0.3, 0.4, 0.5, 0.6, 0.7]]
row_fmt = ["{:g}", "{:.2f}", "{:.1f}", "{:.1f}"]

sns.set_style("white")
fig, axes = plt.subplots(4, 6, figsize=(11.39, 6.21), dpi=100)
fig.subplots_adjust(left=0.0896, right=0.991, top=0.871, bottom=0.047,
                    wspace=0.21, hspace=0.21)

for r, panels in enumerate(rows):
    for c, panel in enumerate(panels):
        ax = axes[r, c]
        for name in names:
            pts = panel[name]
            xs = list(pts.keys())
            ys = list(pts.values())
            color, ls, mk, alpha = styles[name]
            kw = {}
            if mk is not None:
                kw = dict(marker=mk, markersize=4, markeredgewidth=1,
                          markevery=list(range(len(xs) - 1)))
            sns.lineplot(x=xs, y=ys, ax=ax, color=color, linestyle=ls,
                         alpha=alpha, lw=1.1, label=name, **kw)
        if ax.get_legend() is not None:
            ax.get_legend().remove()
        ax.set_xlim(0, 20)
        ax.set_xticks([0, 5, 10, 15, 20])
        ax.set_ylim(*row_ylims[r])
        ax.set_yticks(row_yticks[r])
        ax.set_yticklabels([row_fmt[r].format(v) for v in row_yticks[r]])
        ax.tick_params(labelsize=6, length=2.5, width=0.6, pad=2,
                       colors="#333333", bottom=True, left=True)
        for sp in ax.spines.values():
            sp.set_color("#888888")
            sp.set_linewidth(0.8)
        ax.set_xlabel("")
        ax.set_ylabel("")
        if c == 0:
            ax.set_ylabel(row_ylabels[r], fontsize=8)
        if r == 0:
            ax.set_title(r"$\bar{L} = %s$" % l_values[c], fontsize=6.5, pad=3)
        if r == 3:
            ax.set_xlabel("Number of gradients computed/n", fontsize=4.8, labelpad=1)

handles, labels = axes[0, 0].get_legend_handles_labels()
fig.legend(handles, labels, loc="upper center", bbox_to_anchor=(0.533, 0.998),
           ncol=4, fontsize=8, frameon=True, handlelength=2.6,
           handletextpad=0.9, columnspacing=2.4, borderpad=0.55,
           labelspacing=0.5)

fig.text(0.037, 0.69, "(a) Covtype", rotation=90, va="center", ha="center", fontsize=8.5)
fig.text(0.037, 0.243, "(b) scMARK", rotation=90, va="center", ha="center", fontsize=8.5)

fig.savefig("out.png", dpi=100)
